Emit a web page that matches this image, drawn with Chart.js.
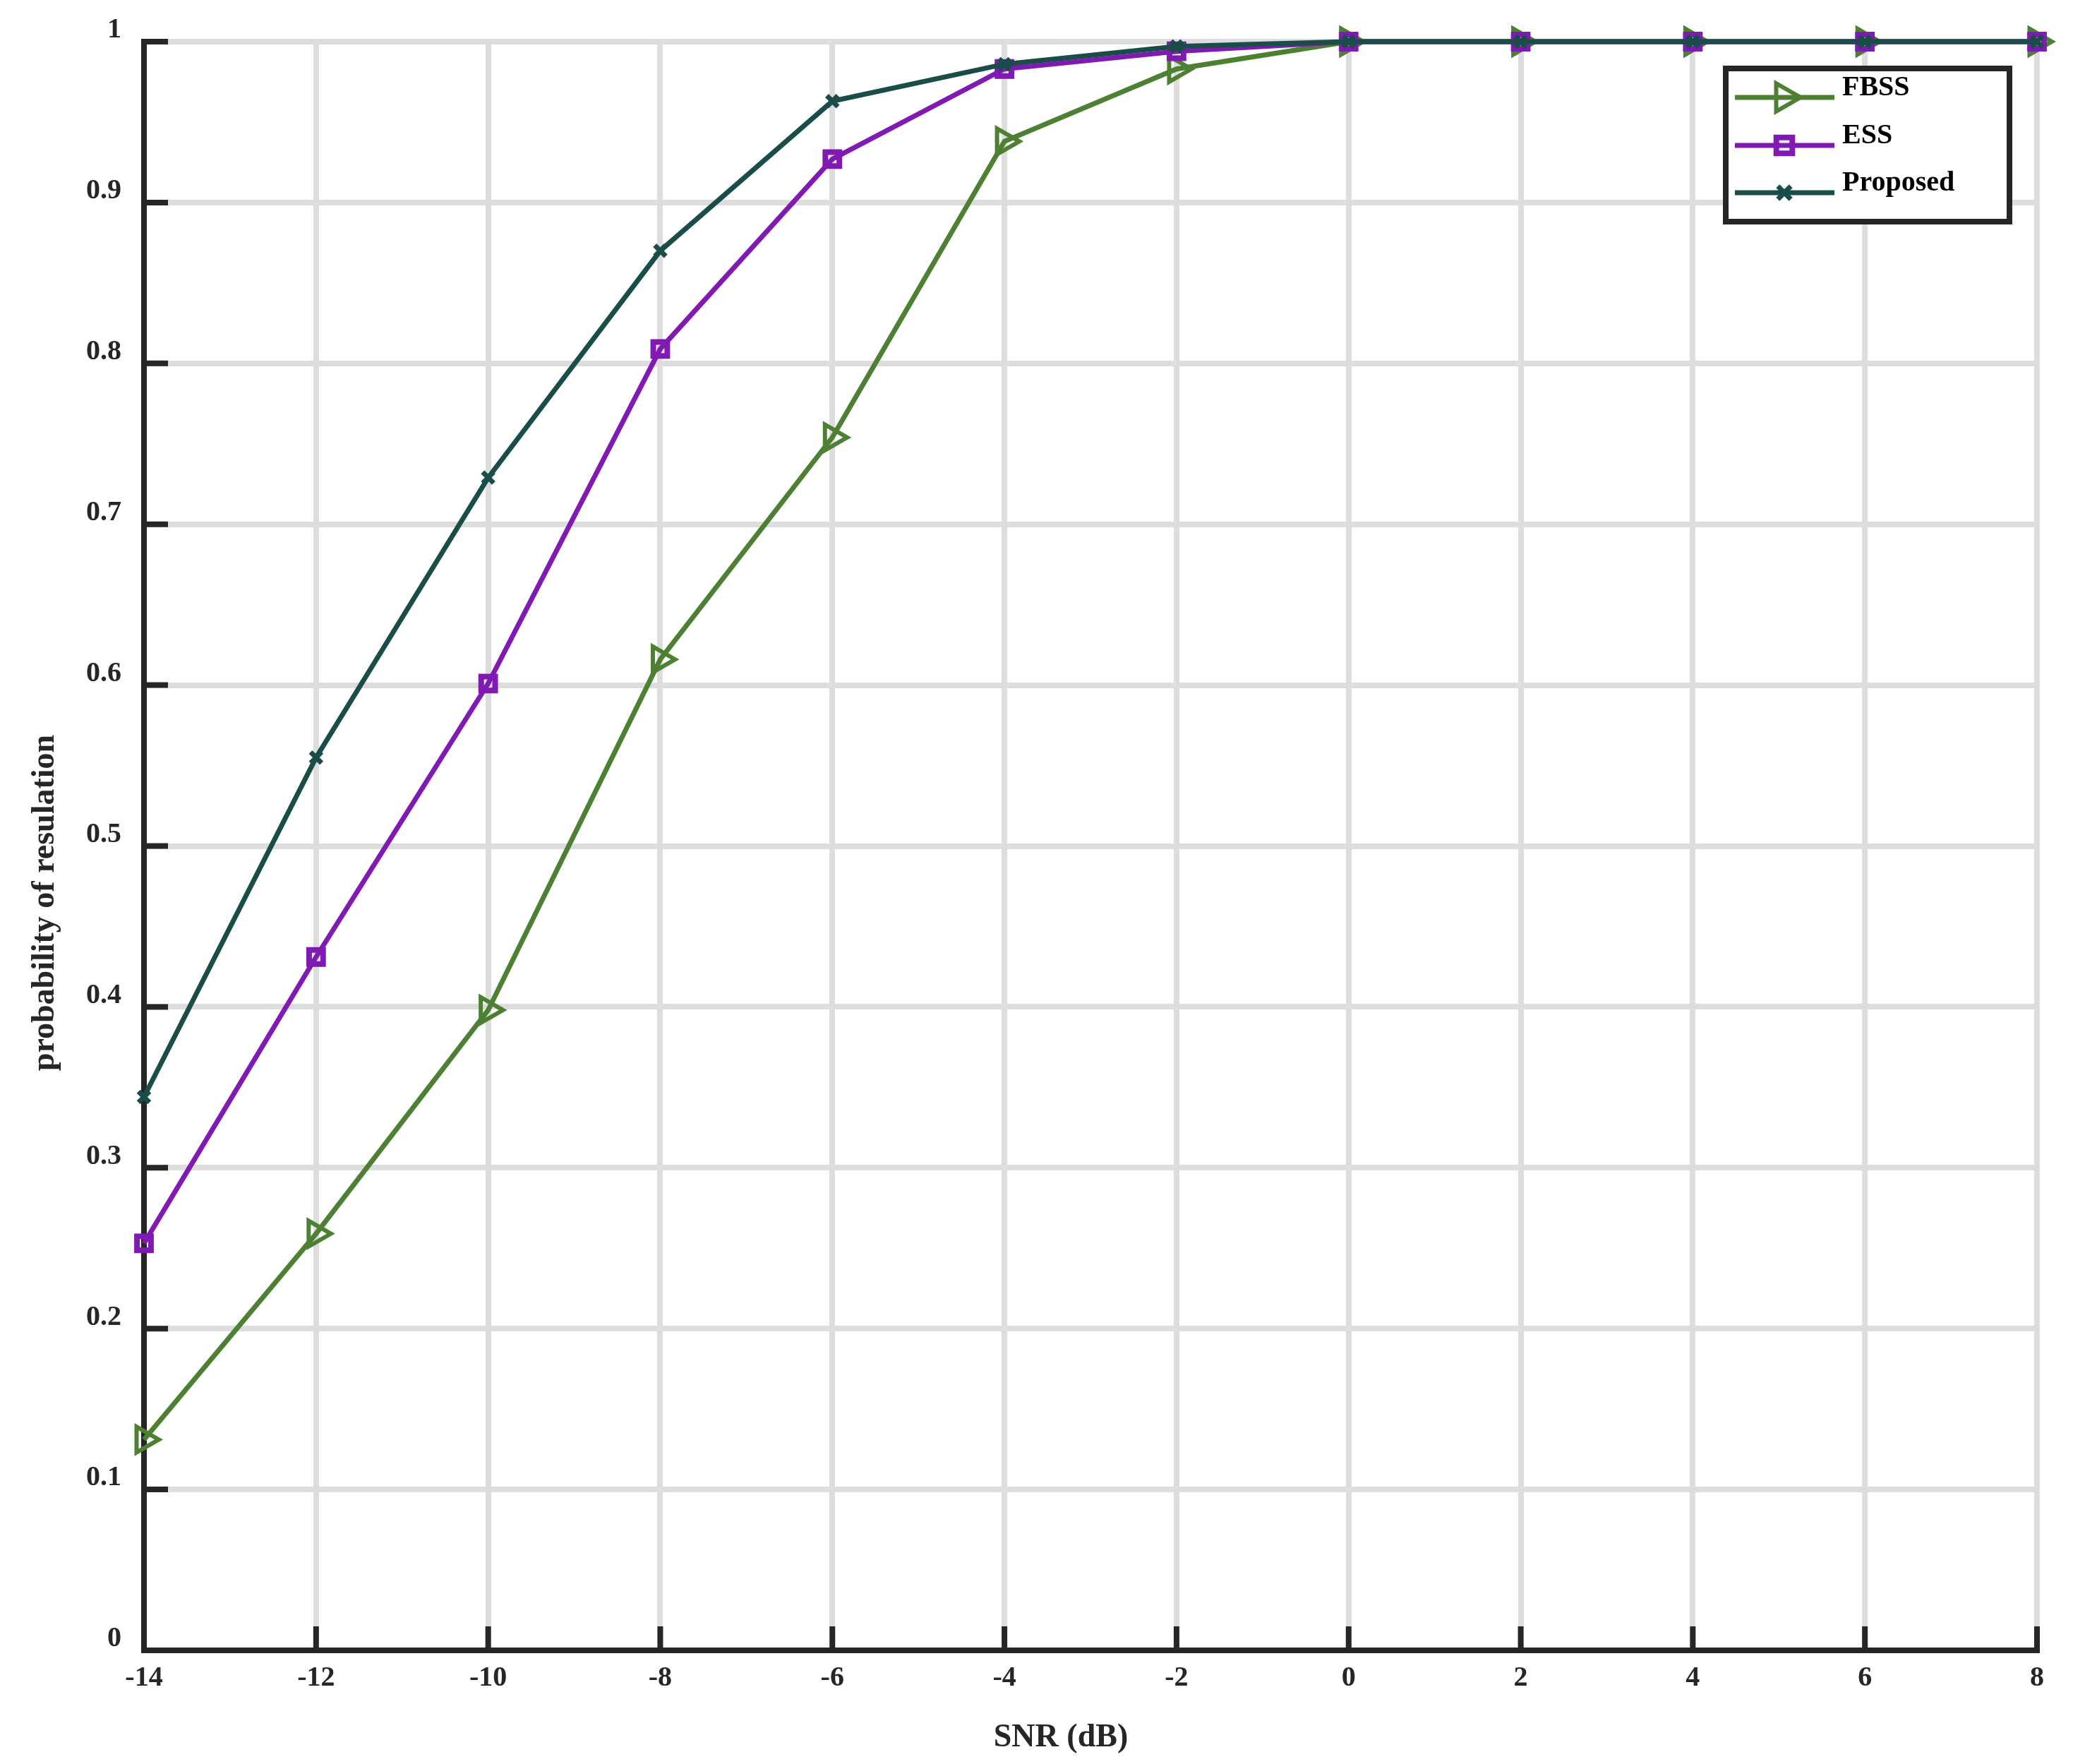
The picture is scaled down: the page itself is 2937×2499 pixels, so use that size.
<!DOCTYPE html>
<html>
<head>
<meta charset="utf-8">
<script src="https://cdn.jsdelivr.net/npm/chart.js@4/dist/chart.umd.min.js"></script>
<style>
  html, body { margin: 0; padding: 0; background: #ffffff; overflow: hidden; }
  #box { width: 2937px; height: 2499px; }
  canvas { display: block; }
</style>
</head>
<body>
<div id="box"><canvas id="chart" width="2937" height="2499"></canvas></div>
<script>
// data
var snr = [-14, -12, -10, -8, -6, -4, -2, 0, 2, 4, 6, 8];
var fbss = [0.131, 0.259, 0.398, 0.616, 0.754, 0.938, 0.983, 1, 1, 1, 1, 1];
var ess = [0.253, 0.431, 0.601, 0.809, 0.927, 0.983, 0.994, 1, 1, 1, 1, 1];
var proposed = [0.344, 0.555, 0.729, 0.870, 0.963, 0.986, 0.997, 1, 1, 1, 1, 1];
var seriesNames = ['FBSS', 'ESS', 'Proposed'];
var xTitle = 'SNR (dB)';
var yTitle = 'probability of resulation';

var axisColor = '#262626';
var fontFamily = '"Liberation Serif", "Times New Roman", serif';

function toPoints(arr) {
    return arr.map(function(v, i) { return { x: snr[i], y: v }; });
}

// inward tick marks, drawn over the grid
var innerTicks = {
    id: 'innerTicks',
    beforeDatasetsDraw: function(chart) {
        var ctx = chart.ctx;
        var a = chart.chartArea;
        var xs = chart.scales.x, ys = chart.scales.y;
        ctx.save();
        ctx.strokeStyle = axisColor;
        ctx.lineWidth = 8;
        xs.ticks.forEach(function(t) {
            var px = xs.getPixelForValue(t.value);
            ctx.beginPath();
            ctx.moveTo(px, a.bottom);
            ctx.lineTo(px, a.bottom - 34);
            ctx.stroke();
        });
        ys.ticks.forEach(function(t) {
            var py = ys.getPixelForValue(t.value);
            ctx.beginPath();
            ctx.moveTo(a.left, py);
            ctx.lineTo(a.left + 34, py);
            ctx.stroke();
        });
        ctx.restore();
    }
};

// axis titles (placed like the original, a bit off-centre)
var axisTitles = {
    id: 'axisTitles',
    afterDraw: function(chart) {
        var ctx = chart.ctx;
        ctx.save();
        ctx.fillStyle = axisColor;
        ctx.font = 'bold 46px ' + fontFamily;
        ctx.textAlign = 'center';
        ctx.textBaseline = 'middle';
        ctx.fillText(xTitle, 1503, 2462);
        ctx.translate(64, 1279);
        ctx.rotate(-Math.PI / 2);
        ctx.fillText(yTitle, 0, 0);
        ctx.restore();
    }
};

// legend box with line + marker
var boxLegend = {
    id: 'boxLegend',
    afterDraw: function(chart) {
        var ctx = chart.ctx;
        ctx.save();
        ctx.fillStyle = '#ffffff';
        ctx.fillRect(2445, 97, 402, 217);
        ctx.strokeStyle = axisColor;
        ctx.lineWidth = 8;
        ctx.strokeRect(2445, 97, 402, 217);
        var rows = [138, 206, 273];
        chart.data.datasets.forEach(function(ds, i) {
            var y = rows[i];
            ctx.strokeStyle = ds.borderColor;
            ctx.lineWidth = ds.borderWidth;
            ctx.beginPath();
            ctx.moveTo(2458, y);
            ctx.lineTo(2599, y);
            ctx.stroke();
            ctx.lineWidth = ds.pointBorderWidth;
            ctx.fillStyle = 'rgba(0,0,0,0)';
            Chart.helpers.drawPoint(ctx, {
                pointStyle: ds.pointStyle,
                rotation: ds.pointRotation || 0,
                radius: ds.pointRadius + 2,
                borderWidth: ds.pointBorderWidth
            }, 2528, y);
            ctx.fillStyle = '#000000';
            ctx.font = 'bold 40px ' + fontFamily;
            ctx.textAlign = 'left';
            ctx.textBaseline = 'alphabetic';
            ctx.fillText(ds.label, 2610, y - 3);
        });
        ctx.restore();
    }
};

var ctx = document.getElementById('chart').getContext('2d');
var chart = new Chart(ctx, {
    type: 'line',
    data: {
        datasets: [{
            label: seriesNames[0],
            data: toPoints(fbss),
            borderColor: '#4d8033',
            borderWidth: 7,
            pointStyle: 'triangle',
            pointRotation: 90,
            pointRadius: 21,
            pointBorderWidth: 6,
            pointBorderColor: '#4d8033',
            pointBackgroundColor: 'rgba(0,0,0,0)',
            order: 2,
            clip: false
        }, {
            label: seriesNames[1],
            data: toPoints(ess),
            borderColor: '#801ab3',
            borderWidth: 7,
            pointStyle: 'rect',
            pointRadius: 14,
            pointBorderWidth: 8,
            pointBorderColor: '#801ab3',
            pointBackgroundColor: 'rgba(0,0,0,0)',
            order: 1,
            clip: false
        }, {
            label: seriesNames[2],
            data: toPoints(proposed),
            borderColor: '#1a4d4a',
            borderWidth: 7,
            pointStyle: 'crossRot',
            pointRadius: 11,
            pointBorderWidth: 7,
            pointBorderColor: '#1a4d4a',
            pointBackgroundColor: 'rgba(0,0,0,0)',
            order: 0,
            clip: false
        }]
    },
    options: {
        responsive: false,
        animation: false,
        layout: { padding: { top: 59, right: 51, left: 0, bottom: 0 } },
        plugins: {
            legend: { display: false },
            tooltip: { enabled: false }
        },
        elements: { line: { tension: 0 } },
        scales: {
            x: {
                type: 'linear',
                min: -14,
                max: 8,
                afterFit: function(s) { s.height = 161; },
                ticks: {
                    stepSize: 2,
                    padding: 16,
                    color: axisColor,
                    font: { family: fontFamily, size: 40, weight: 'bold' }
                },
                grid: { color: '#dddddd', lineWidth: 8, drawTicks: false },
                border: { color: axisColor, width: 8 }
            },
            y: {
                type: 'linear',
                min: 0,
                max: 1,
                afterFit: function(s) { s.width = 204; },
                ticks: {
                    stepSize: 0.1,
                    padding: 32,
                    labelOffset: -16,
                    color: axisColor,
                    font: { family: fontFamily, size: 40, weight: 'bold' },
                    callback: function(v) { return Number(v.toFixed(1)).toString(); }
                },
                grid: { color: '#dddddd', lineWidth: 8, drawTicks: false },
                border: { color: axisColor, width: 8 }
            }
        }
    },
    plugins: [innerTicks, axisTitles, boxLegend]
});
</script>
</body>
</html>
